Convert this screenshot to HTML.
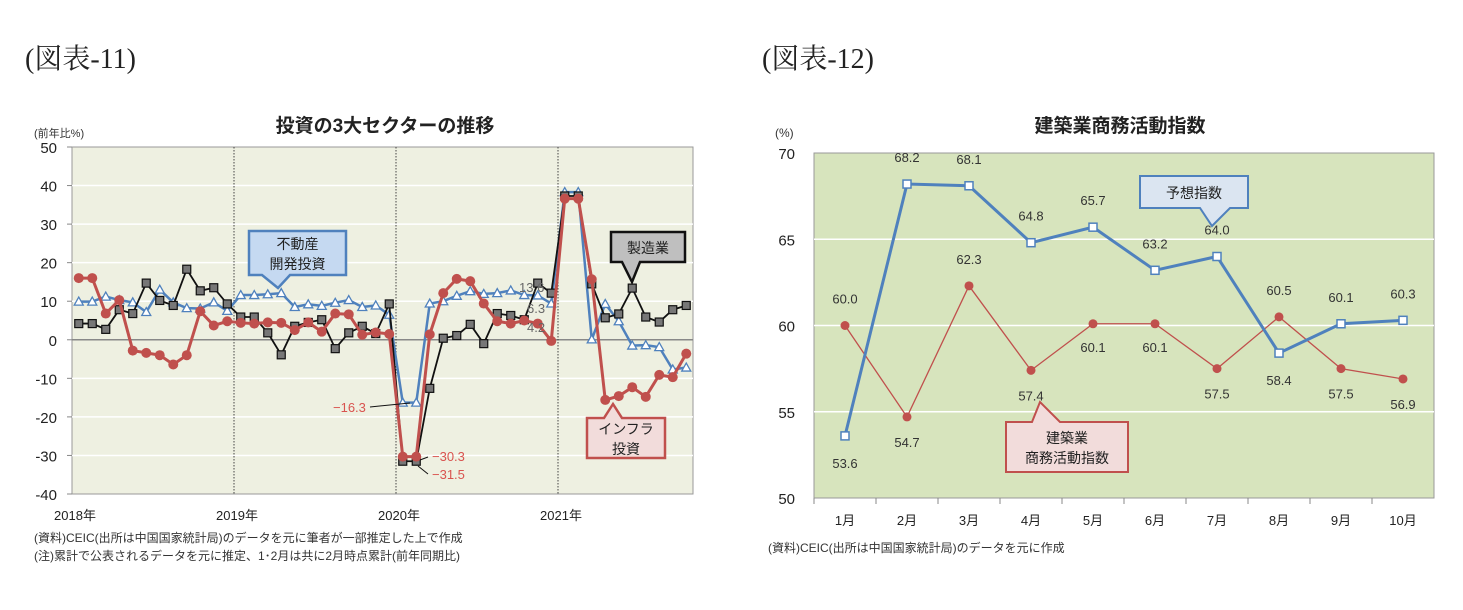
<!DOCTYPE html>
<html><head><meta charset="utf-8">
<style>
body{margin:0;background:#fff;width:1463px;height:605px;overflow:hidden;font-family:"Liberation Sans","Noto Sans CJK JP",sans-serif;}
svg text{font-family:"Liberation Sans","Noto Sans CJK JP",sans-serif;}
</style></head>
<body>
<svg id="svg" width="1463" height="605" xmlns="http://www.w3.org/2000/svg">
<text x="25" y="68" font-size="28" style="font-family:'Liberation Serif','Noto Serif CJK SC',serif" fill="#222">(図表-11)</text>
<text x="762" y="68" font-size="28" style="font-family:'Liberation Serif','Noto Serif CJK SC',serif" fill="#222">(図表-12)</text>
<g id="left"></g>
<g id="right"></g>
</svg>
<script>
// ---- Left chart data ----
const leftYears = ["2018年","2019年","2020年","2021年"];
const leftTicks = [50,40,30,20,10,0,-10,-20,-30,-40];
const manuf = [4.2,4.2,2.7,7.8,6.8,14.7,10.2,8.9,18.3,12.7,13.5,9.3,
 5.9,5.9,1.8,-3.9,3.5,4.5,5.2,-2.3,1.8,3.5,1.6,9.3,
 -31.5,-31.5,-12.6,0.4,1.1,4.0,-1.0,6.8,6.3,5.2,14.7,12.1,
 37.3,37.3,14.5,5.7,6.7,13.4,5.9,4.6,7.8,8.9];
const infra = [16,16,6.8,10.3,-2.8,-3.4,-4,-6.4,-4,7.4,3.7,4.8,
 4.4,4.2,4.5,4.4,2.5,4.5,2.1,6.8,6.6,1.3,1.9,1.5,
 -30.3,-30.3,1.4,12.1,15.8,15.2,9.4,4.8,4.2,5.0,4.2,-0.3,
 36.6,36.6,15.7,-15.6,-14.6,-12.3,-14.8,-9.1,-9.7,-3.6];
const realEstate = [9.9,9.9,11.2,10.3,9.7,7.2,13,9.7,8.2,8.1,9.7,7.5,
 11.6,11.6,11.8,12.1,8.5,9.2,8.8,9.6,10.3,8.5,8.9,6.5,
 -16.3,-16.3,9.4,10,11.4,12.6,11.9,12.1,12.8,11.6,11.5,9.4,
 38.3,38.3,0.1,9.3,4.8,-1.5,-1.4,-1.9,-7.7,-7.2];
// ---- Right chart data ----
const months = ["1月","2月","3月","4月","5月","6月","7月","8月","9月","10月"];
const rightTicks = [70,65,60,55,50];
const expectIdx = [53.6,68.2,68.1,64.8,65.7,63.2,64.0,58.4,60.1,60.3];
const constrIdx = [60.0,54.7,62.3,57.4,60.1,60.1,57.5,60.5,57.5,56.9];

const NS="http://www.w3.org/2000/svg";
function mk(parent,tag,attrs,text){const e=document.createElementNS(NS,tag);for(const k in attrs)e.setAttribute(k,attrs[k]);if(text!==undefined)e.textContent=text;parent.appendChild(e);return e;}

// ===== Left =====
const L=document.getElementById('left');
const lx0=72,lx1=693,ly0=147,ly1=494,ymax=50,ymin=-40,nM=infra.length;
const lx=i=>lx0+(lx1-lx0)/nM*(i+0.5);
const ly=v=>ly0+(ymax-v)/(ymax-ymin)*(ly1-ly0);
let t=mk(L,'text',{x:385,y:132,'font-size':19,'font-weight':'bold','text-anchor':'middle',fill:'#222'},'投資の3大セクターの推移');


t=mk(L,'text',{x:34,y:137,'font-size':11,fill:'#333'},'(前年比%)');


let r=mk(L,'rect',{x:lx0,y:ly0,width:lx1-lx0,height:ly1-ly0,fill:'#eef0e1',stroke:'#999'});


leftTicks.forEach(v=>{
 if(v!==50&&v!==-40&&v!==0){let g=mk(L,'line',{x1:lx0,x2:lx1,y1:ly(v),y2:ly(v),stroke:'#fff','stroke-width':1.5});
 
 }
 let tt=mk(L,'text',{x:57,y:ly(v)+6,'font-size':15,'text-anchor':'end',fill:'#222'},String(v));
 
 
 let tk=mk(L,'line',{x1:lx0-5,x2:lx0,y1:ly(v),y2:ly(v),stroke:'#888'});
 
 
});
let z=mk(L,'line',{x1:lx0,x2:lx1,y1:ly(0),y2:ly(0),stroke:'#888','stroke-width':1.5});


leftYears.forEach((y,k)=>{
 const xb=lx0+(lx1-lx0)/nM*12*k;
 if(k>0){let d=mk(L,'line',{x1:xb,x2:xb,y1:ly0,y2:ly1,stroke:'#444','stroke-dasharray':'1.5,1.5'});
 
 }
 let tt=mk(L,'text',{x:xb+3,y:520,'font-size':13,'text-anchor':'middle',fill:'#222'},y);
 
 
});
function series(P,data,xf,yf,color,w,name){
 const pts=data.map((v,i)=>xf(i)+','+yf(v)).join(' ');
 const pl=mk(P,'polyline',{points:pts,fill:'none',stroke:color,'stroke-width':w});
 
 
 return pl;
}
series(L,realEstate,lx,ly,'#4f81bd',2.5,'real-estate');
realEstate.forEach((v,i)=>{const x=lx(i),y=ly(v);
 const m=mk(L,'polygon',{points:`${x},${y-4.5} ${x-4.5},${y+3.5} ${x+4.5},${y+3.5}`,fill:'#fff',stroke:'#4f81bd','stroke-width':1.3});
 
 });
series(L,manuf,lx,ly,'#111',1.8,'manufacturing');
manuf.forEach((v,i)=>{const m=mk(L,'rect',{x:lx(i)-4,y:ly(v)-4,width:8,height:8,fill:'#777',stroke:'#111','stroke-width':1.2});
 
 });
series(L,infra,lx,ly,'#c0504d',3,'infrastructure');
infra.forEach((v,i)=>{const m=mk(L,'circle',{cx:lx(i),cy:ly(v),r:5,fill:'#c0504d'});
 
 });
function ann(P,x,y,txt,color,name,lx1_,ly1_,lx2_,ly2_){
 if(lx1_!==undefined){const l=mk(P,'line',{x1:lx1_,y1:ly1_,x2:lx2_,y2:ly2_,stroke:'#111'});
 
 }
 const a=mk(P,'text',{x:x,y:y,'font-size':13,fill:color},txt);
 
 
}
ann(L,333,412,'−16.3','#d9534f','label-real-estate-low',370,407,410,403);
ann(L,432,461,'−30.3','#d9534f','label-infra-low',420,460,428,457);
ann(L,432,479,'−31.5','#d9534f','label-manuf-low',418,466,428,474);
ann(L,519,292,'13.6','#666','label-manuf-nov');
ann(L,527,313,'6.3','#666','label-manuf-oct');
ann(L,527,332,'4.2','#666','label-infra-nov');
function callout(P,x,y,w,h,fill,stroke,lines,tip,name,sw){
 const g=mk(P,'g',{});
 
 
 const [tx1,tx2,px,py,top]=tip;
 let d;
 if(top) d=`M${x},${y} L${tx1},${y} L${px},${py} L${tx2},${y} L${x+w},${y} L${x+w},${y+h} L${x},${y+h} Z`;
 else d=`M${x},${y} L${x+w},${y} L${x+w},${y+h} L${tx2},${y+h} L${px},${py} L${tx1},${y+h} L${x},${y+h} Z`;
 mk(g,'path',{d:d,fill:fill,stroke:stroke,'stroke-width':sw||2.5});
 lines.forEach((s,i)=>mk(g,'text',{x:x+w/2,y:y+h/2+6-(lines.length-1)*10+i*20,'font-size':14,'text-anchor':'middle',fill:'#222'},s));
}
callout(L,249,231,97,44,'#c5d9f1','#4f81bd',['不動産','開発投資'],[262,290,278,288,false],'real-estate-callout');
callout(L,611,232,74,30,'#bfbfbf','#111',['製造業'],[622,640,632,282,false],'manufacturing-callout');
callout(L,587,418,78,40,'#f2dcdb','#c0504d',['インフラ','投資'],[604,622,613,404,true],'infrastructure-callout');
t=mk(L,'text',{x:34,y:542,'font-size':12,fill:'#333'},'(資料)CEIC(出所は中国国家統計局)のデータを元に筆者が一部推定した上で作成');


t=mk(L,'text',{x:34,y:560,'font-size':12,fill:'#333'},'(注)累計で公表されるデータを元に推定、1･2月は共に2月時点累計(前年同期比)');



// ===== Right =====
const R=document.getElementById('right');
const rx0=814,rx1=1434,ry0=153,ry1=498,rmax=70,rmin=50;
const rx=i=>rx0+(rx1-rx0)/months.length*(i+0.5);
const ry=v=>ry0+(rmax-v)/(rmax-rmin)*(ry1-ry0);
t=mk(R,'text',{x:1120,y:132,'font-size':19,'font-weight':'bold','text-anchor':'middle',fill:'#222'},'建築業商務活動指数');


t=mk(R,'text',{x:775,y:137,'font-size':12,fill:'#333'},'(%)');


r=mk(R,'rect',{x:rx0,y:ry0,width:rx1-rx0,height:ry1-ry0,fill:'#d7e4bd',stroke:'#999'});


rightTicks.forEach(v=>{
 if(v!==70&&v!==50){let g=mk(R,'line',{x1:rx0,x2:rx1,y1:ry(v),y2:ry(v),stroke:'#fff','stroke-width':1.5});
 
 }
 let tt=mk(R,'text',{x:795,y:ry(v)+6,'font-size':15,'text-anchor':'end',fill:'#222'},String(v));
 
 
});
months.forEach((m,i)=>{
 const xb=rx0+(rx1-rx0)/months.length*i;
 let tk=mk(R,'line',{x1:xb,x2:xb,y1:ry1,y2:ry1+6,stroke:'#888'});
 
 
 let tt=mk(R,'text',{x:rx(i),y:525,'font-size':13,'text-anchor':'middle',fill:'#222'},m);
 
 
});
series(R,constrIdx,rx,ry,'#c0504d',1.3,'construction-index');
constrIdx.forEach((v,i)=>{const m=mk(R,'circle',{cx:rx(i),cy:ry(v),r:4.5,fill:'#c0504d'});
 
 
 const below=[1,3,6,8,9].includes(i)||(i===4||i===5);
 const yy=(i===4||i===5)?ry(v)+28:(below?ry(v)+30:ry(v)-22);
 const a=mk(R,'text',{x:rx(i),y:yy,'font-size':13,'text-anchor':'middle',fill:'#333'},v.toFixed(1));
 
 });
series(R,expectIdx,rx,ry,'#4f81bd',3,'expectation-index');
expectIdx.forEach((v,i)=>{const m=mk(R,'rect',{x:rx(i)-4,y:ry(v)-4,width:8,height:8,fill:'#fff',stroke:'#4f81bd','stroke-width':1.5});
 
 
 const below=(i===0||i===7);
 const yy=below?ry(v)+32:ry(v)-22;
 const a=mk(R,'text',{x:rx(i),y:yy,'font-size':13,'text-anchor':'middle',fill:'#333'},v.toFixed(1));
 
 });
callout(R,1140,176,108,32,'#dbe5f1','#4f81bd',['予想指数'],[1200,1230,1212,226,false],'expectation-callout',2);
callout(R,1006,422,122,50,'#f2dcdb','#c0504d',['建築業','商務活動指数'],[1032,1060,1040,402,true],'construction-callout',2);
t=mk(R,'text',{x:768,y:552,'font-size':12,fill:'#333'},'(資料)CEIC(出所は中国国家統計局)のデータを元に作成');


</script>
</body></html>
